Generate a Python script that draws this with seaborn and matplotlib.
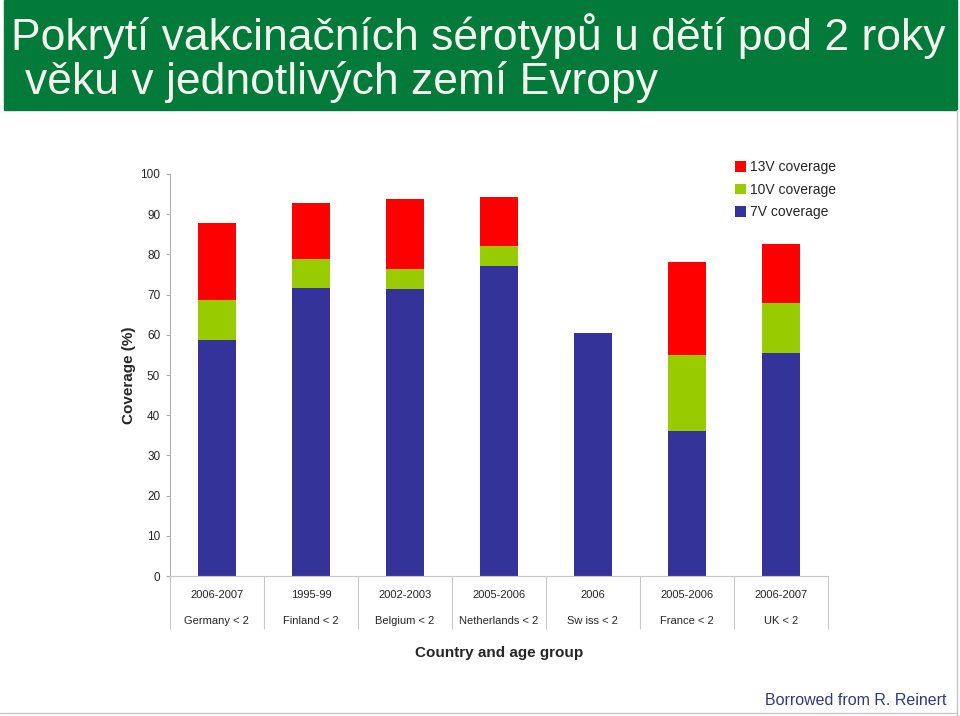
import numpy as np
import pandas as pd
import matplotlib.pyplot as plt
import seaborn as sns
from matplotlib.patches import Rectangle

# data (%)
years = ['2006-2007', '1995-99', '2002-2003', '2005-2006', '2006', '2005-2006', '2006-2007']
countries = ['Germany < 2', 'Finland < 2', 'Belgium < 2', 'Netherlands < 2', 'Sw iss < 2', 'France < 2', 'UK < 2']
cov_7v = [58.6, 71.7, 71.4, 77.1, 60.4, 36.1, 55.5]
add_10v = [10.0, 7.2, 5.0, 5.0, 0.0, 19.0, 12.5]
add_13v = [19.2, 13.9, 17.4, 12.2, 0.0, 23.0, 14.6]

df = pd.DataFrame({'group': countries, 'v7': cov_7v, 'v10': add_10v, 'v13': add_13v})
df['top10'] = df['v7'] + df['v10']
df['top13'] = df['top10'] + df['v13']

c13 = '#ff0000'
c10 = '#99cc00'
c7 = '#333399'

sns.set_style('white')
plt.rcParams['font.family'] = ['Liberation Sans', 'DejaVu Sans']

fig = plt.figure(figsize=(9.6, 7.16), dpi=100)
ax = fig.add_axes([0.177, 0.1955, 0.6854, 0.5615])

# stacked bars: draw cumulative totals back to front
sns.barplot(data=df, x='group', y='top13', color=c13, width=0.4, saturation=1, linewidth=0, ax=ax, label='13V coverage')
sns.barplot(data=df, x='group', y='top10', color=c10, width=0.4, saturation=1, linewidth=0, ax=ax, label='10V coverage')
sns.barplot(data=df, x='group', y='v7', color=c7, width=0.4, saturation=1, linewidth=0, ax=ax, label='7V coverage')

ax.set_ylim(0, 100)
ax.set_xlim(-0.5, 6.5)
ax.set_yticks(np.arange(0, 101, 10))
ax.tick_params(axis='y', labelsize=8.5, length=3, color='#b0b0b0', pad=4, left=True)
ax.set_xticks(range(len(countries)))
ax.set_xticklabels([f'{y}\n{c}' for y, c in zip(years, countries)], fontsize=8, linespacing=3.0)
ax.tick_params(axis='x', which='major', length=0, pad=10)
ax.set_xticks(np.arange(-0.5, 7, 1), minor=True)
ax.tick_params(axis='x', which='minor', length=38, color='#c8c8c8', width=0.8, bottom=True)

for s in ['top', 'right']:
    ax.spines[s].set_visible(False)
ax.spines['left'].set_color('#b0b0b0')
ax.spines['bottom'].set_color('#c8c8c8')

ax.set_ylabel('Coverage (%)', fontsize=11, fontweight='bold', labelpad=3)
ax.set_xlabel('Country and age group', fontsize=11, fontweight='bold', labelpad=9)

handles, labels = ax.get_legend_handles_labels()
ax.legend(handles, labels, loc='upper left', bbox_to_anchor=(0.84, 1.065), frameon=False,
          fontsize=10, handlelength=0.8, handleheight=0.8, handletextpad=0.3, labelspacing=0.6)

# title banner
fig.patches.append(Rectangle((0.004, 0.846), 0.993, 0.154, transform=fig.transFigure,
                             color='#027a3a', zorder=0))
title_font = ['Liberation Sans Narrow', 'Liberation Sans', 'DejaVu Sans']
fig.text(0.011, 0.93, 'Pokrytí vakcinačních sérotypů u dětí pod 2 roky', fontsize=32,
         color='#f4f4ee', family=title_font, va='baseline')
fig.text(0.026, 0.869, 'věku v jednotlivých zemí Evropy', fontsize=32,
         color='#f4f4ee', family=title_font, va='baseline')

# right frame line and footer
fig.add_artist(plt.Line2D([0.997, 0.997], [0.0, 0.846], transform=fig.transFigure, color='#c8c8c8', lw=1))
fig.add_artist(plt.Line2D([0.0, 0.997], [0.004, 0.004], transform=fig.transFigure, color='#c8c8c8', lw=1))
fig.text(0.986, 0.015, 'Borrowed from R. Reinert', fontsize=11.5, color='#2e3a87', ha='right')

fig.savefig('out.png', dpi=100)
